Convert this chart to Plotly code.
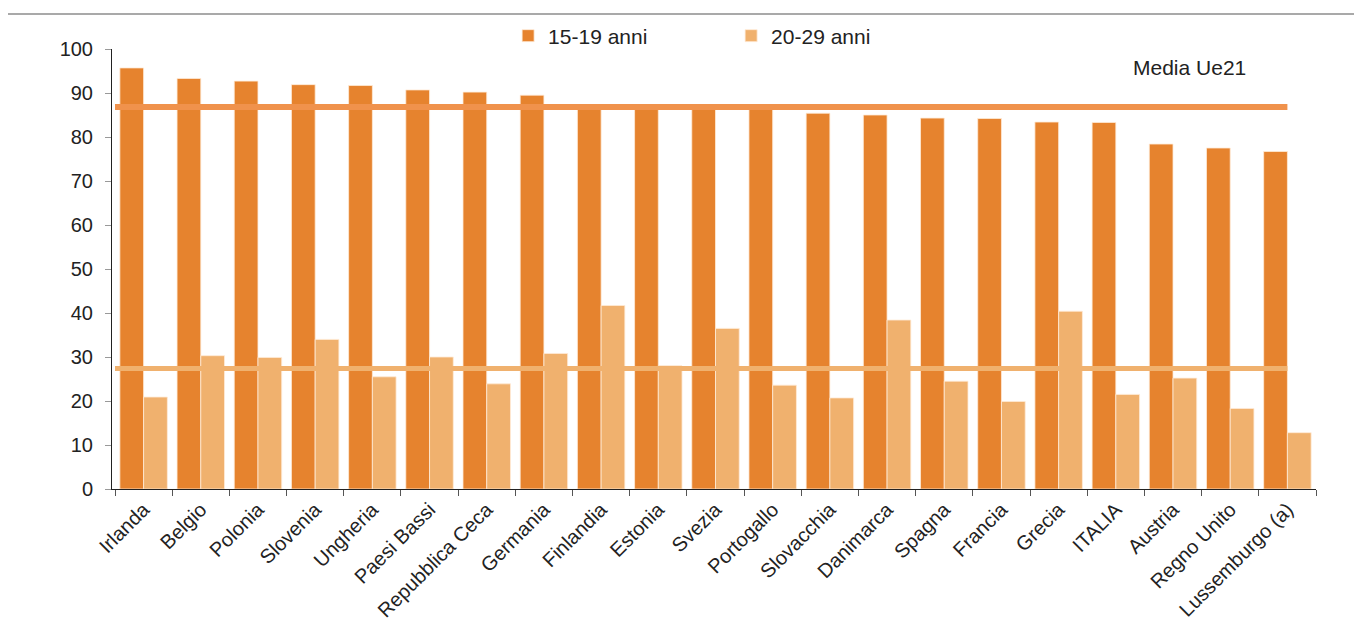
import plotly.graph_objects as go

categories = ["Irlanda", "Belgio", "Polonia", "Slovenia", "Ungheria", "Paesi Bassi",
              "Repubblica Ceca", "Germania", "Finlandia", "Estonia", "Svezia", "Portogallo",
              "Slovacchia", "Danimarca", "Spagna", "Francia", "Grecia", "ITALIA", "Austria",
              "Regno Unito", "Lussemburgo (a)"]
val_15_19 = [95.7, 93.3, 92.7, 91.9, 91.7, 90.7, 90.2, 89.5, 87.0, 86.9, 86.8, 86.6,
             85.4, 85.0, 84.3, 84.2, 83.4, 83.3, 78.4, 77.5, 76.7]
val_20_29 = [20.9, 30.3, 29.9, 34.0, 25.5, 30.0, 23.9, 30.8, 41.7, 28.0, 36.5, 23.6,
             20.7, 38.4, 24.5, 19.9, 40.4, 21.5, 25.2, 18.3, 12.8]
media_15_19 = 86.8
media_20_29 = 27.4
y_ticks = list(range(0, 101, 10))

dark = "#E6832E"
light = "#F0B16E"
FONT = "Liberation Sans, Arial, sans-serif"
TXT = "#222222"

fig = go.Figure()
fig.add_trace(go.Bar(x=categories, y=val_15_19, name="15-19 anni",
                     marker=dict(color=dark, line=dict(color="rgba(255,235,215,0.8)", width=1))))
fig.add_trace(go.Bar(x=categories, y=val_20_29, name="20-29 anni",
                     marker=dict(color=light, line=dict(color="rgba(255,235,215,0.8)", width=1))))

last = len(categories) - 1
fig.add_shape(type="line", xref="x", yref="y", x0=-0.5, x1=last, y0=media_15_19, y1=media_15_19,
              line=dict(color="#F0924C", width=6), layer="above")
fig.add_shape(type="line", xref="x", yref="y", x0=-0.5, x1=last, y0=media_20_29, y1=media_20_29,
              line=dict(color="#F0B16E", width=5), layer="above")
# top rule
fig.add_shape(type="line", xref="paper", yref="paper", x0=-0.087, x1=1.04, y0=1.0795, y1=1.0795,
              line=dict(color="#8C8C8C", width=1.5))

fig.add_annotation(text="Media Ue21", xref="paper", yref="paper", x=0.895, y=0.958,
                   xanchor="center", yanchor="middle", showarrow=False,
                   font=dict(family=FONT, size=21, color=TXT))

fig.update_layout(
    width=1346, height=624,
    margin=dict(l=104, r=38, t=41, b=143, autoexpand=False),
    paper_bgcolor="white", plot_bgcolor="white",
    barmode="group", bargap=0.17, bargroupgap=0,
    font=dict(family=FONT, size=20, color=TXT),
    showlegend=True,
    legend=dict(orientation="h", x=0.329, y=1.0295, xanchor="left", yanchor="middle",
                font=dict(family=FONT, size=21, color=TXT),
                entrywidth=178, entrywidthmode="pixels", bgcolor="rgba(0,0,0,0)",
                itemclick=False),
    xaxis=dict(type="category", tickangle=-45, showline=True, linecolor=TXT, linewidth=1,
               ticks="outside", tickson="boundaries", ticklen=6, tickcolor="#555555",
               showgrid=False, automargin=False,
               tickfont=dict(family=FONT, size=20, color=TXT)),
    yaxis=dict(range=[0, 100], tickvals=y_ticks, showline=True, linecolor=TXT, linewidth=1,
               ticks="outside", ticklen=6, tickcolor="#999999", showgrid=False, zeroline=False,
               automargin=False, ticklabelstandoff=8,
               tickfont=dict(family=FONT, size=20, color=TXT)),
)

fig.write_html("out.html")
